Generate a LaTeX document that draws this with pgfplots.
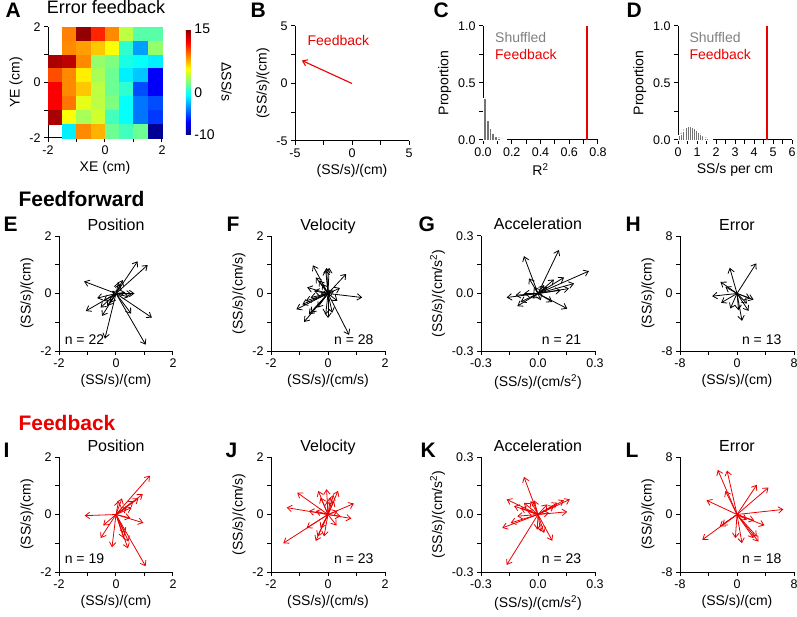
\documentclass[border=0pt]{standalone}
\usepackage{fontspec}
\setmainfont{Liberation Sans}
\usepackage{pgfplots}
\pgfplotsset{compat=1.18}
\usetikzlibrary{arrows.meta}
\definecolor{fbred}{RGB}{235,0,0}
\newcommand{\tickfont}{\fontsize{12.5}{14}\selectfont}
\newcommand{\labfont}{\fontsize{14}{16}\selectfont}
\newcommand{\titfont}{\fontsize{16}{18}\selectfont}
\newcommand{\letfont}{\fontsize{21}{24}\selectfont\bfseries}
\pgfplotsset{
  base/.style={scale only axis, axis lines=left, axis line style={-, line width=1pt},
    tick style={line width=1pt, black}, tick align=outside, major tick length=4pt,
    ticklabel style={font=\tickfont}, label style={font=\labfont},
    title style={font=\titfont, at={(0.5,1)}, anchor=base, yshift=0pt},
    /pgf/number format/assume math mode=true, clip=false},
  vec/.style={base, width=114pt, height=115pt},
  arr/.style={line width=0.8pt, -{Straight Barb[length=4.5pt,width=6.5pt]}, quiver={u=\thisrow{u},v=\thisrow{v}}},
  cm/.style={xmin=-2,xmax=2,ymin=-2,ymax=2, xtick={-2,-1,0,1,2}, xticklabels={-2,,0,,2}, ytick={-2,-1,0,1,2}, yticklabels={-2,,0,,2}},
  acc/.style={xmin=-0.3,xmax=0.3,ymin=-0.3,ymax=0.3, xtick={-0.3,-0.15,0,0.15,0.3}, xticklabels={-0.3,,0.0,,0.3}, ytick={-0.3,-0.15,0,0.15,0.3}, yticklabels={-0.3,,0.0,,0.3}},
  err/.style={xmin=-8,xmax=8,ymin=-8,ymax=8, xtick={-8,-4,0,4,8}, xticklabels={-8,,0,,8}, ytick={-8,-4,0,4,8}, yticklabels={-8,,0,,8}},
}
\begin{document}
\begin{tikzpicture}
\useasboundingbox (0,0) rectangle (797pt,-617pt);
% ---------- A ----------
\begin{axis}[base, width=114pt, height=111pt, at={(48pt,-138pt)}, anchor=south west,
  cm, xlabel={XE (cm)}, ylabel={YE (cm)},
  colormap/jet, point meta min=-10, point meta max=15,
  colorbar, colorbar style={scale only axis, width=5pt, height=106pt, at={(1.21,0.982)}, anchor=north west,
    ytick={-10,0,15}, yticklabels={-10,0,15}, axis line style={draw=none}, major tick length=0pt,
    yticklabel style={font=\labfont}, ylabel={ΔSS/s}, ylabel style={font=\labfont, rotate=180}}]
\addplot[scatter, only marks, mark=square*, mark size=7.15pt, scatter src=explicit,
  scatter/use mapped color={draw=mapped color, fill=mapped color},
  every mark/.append style={yscale=0.974}] table[meta=c] {
x y c
-1.75 0.75 14
-1.75 0.25 10
-1.75 -0.25 12
-1.75 -0.75 12
-1.75 -1.25 14
-1.25 1.75 8.75
-1.25 1.25 8.5
-1.25 0.75 13.5
-1.25 0.25 8.5
-1.25 -0.25 8.5
-1.25 -0.75 9
-1.25 -1.25 5.5
-1.25 -1.75 -1
-0.75 1.75 14.5
-0.75 1.25 8
-0.75 0.75 8.5
-0.75 0.25 6
-0.75 -0.25 7
-0.75 -0.75 5
-0.75 -1.25 3.5
-0.75 -1.75 8.5
-0.25 1.75 11
-0.25 1.25 7
-0.25 0.75 3
-0.25 0.25 3.5
-0.25 -0.25 4
-0.25 -0.75 4
-0.25 -1.25 4.5
-0.25 -1.75 7.5
0.25 1.75 8.5
0.25 1.25 5.5
0.25 0.75 2.5
0.25 0.25 2
0.25 -0.25 2
0.25 -0.75 2.5
0.25 -1.25 1
0.25 -1.75 2
0.75 1.75 4
0.75 1.25 0.5
0.75 0.75 0
0.75 0.25 -1
0.75 -0.25 0.5
0.75 -0.75 -0.5
0.75 -1.25 -0.5
0.75 -1.75 1
1.25 1.75 1.5
1.25 1.25 -3
1.25 0.75 -0.5
1.25 0.25 -2
1.25 -0.25 -5
1.25 -0.75 -4
1.25 -1.25 -4
1.25 -1.75 2
1.75 1.75 1.5
1.75 1.25 3
1.75 0.75 -1
1.75 0.25 -7
1.75 -0.25 -7
1.75 -0.75 -5
1.75 -1.25 -5.5
1.75 -1.75 -9.5
};
\draw[line width=1.2pt] (axis cs:0,0) ellipse[x radius=1.28, y radius=1.3];
\end{axis}
% ---------- B ----------
\begin{axis}[vec, at={(295pt,-141pt)}, anchor=south west,
  xmin=-5,xmax=5,ymin=-5,ymax=5, xtick={-5,-2.5,0,2.5,5}, xticklabels={-5,,0,,5},
  ytick={-5,-2.5,0,2.5,5}, yticklabels={-5,,0,,5},
  xlabel={(SS/s)/(cm)}, ylabel={(SS/s)/(cm)}]
\addplot[arr, fbred, line width=1.1pt] table {
x y u v
0 0 -4.4 2.0
};
\node[anchor=west, fbred, font=\labfont] at (axis cs:-4.2,3.78) {Feedback};
\end{axis}
% ---------- C ----------
\begin{axis}[base, width=115pt, height=114pt, at={(483pt,-140pt)}, anchor=south west,
  xmin=0,xmax=0.8,ymin=0,ymax=1, xtick={0,0.1,...,0.8}, xticklabels={0.0,,0.2,,0.4,,0.6,,0.8},
  ytick={0,0.25,0.5,0.75,1}, yticklabels={0.0,,0.5,,1.0},
  xlabel={R\textsuperscript{2}}, ylabel={Proportion}]
\addplot[ybar, bar width=0.02, fill=gray!90!black, draw=white, line width=0.3pt] table {
x y
0.01 0.37
0.03 0.175
0.05 0.10
0.07 0.06
0.09 0.035
0.11 0.02
0.13 0.01
0.15 0.005
};
\addplot[arr, fbred, line width=1.8pt, arrows=-] table {
x y u v
0.726 0 0 1
};
\node[anchor=west, gray, font=\labfont] at (axis cs:0.06,0.897) {Shuffled};
\node[anchor=west, fbred, font=\labfont] at (axis cs:0.06,0.75) {Feedback};
\end{axis}
% ---------- D ----------
\begin{axis}[base, width=114pt, height=114pt, at={(678pt,-140pt)}, anchor=south west,
  xmin=0,xmax=6,ymin=0,ymax=1, xtick={0,0.5,...,6}, xticklabels={0,,1,,2,,3,,4,,5,,6},
  ytick={0,0.25,0.5,0.75,1}, yticklabels={0.0,,0.5,,1.0},
  xlabel={SS/s per cm}, ylabel={Proportion}]
\addplot[ybar, bar width=0.1, fill=gray!90!black, draw=white, line width=0.3pt] table {
x y
0.05 0.04
0.15 0.055
0.25 0.075
0.35 0.095
0.45 0.11
0.55 0.12
0.65 0.122
0.75 0.115
0.85 0.10
0.95 0.085
1.05 0.07
1.15 0.055
1.25 0.04
1.35 0.03
1.45 0.02
1.55 0.012
1.65 0.008
1.75 0.004
};
\addplot[arr, fbred, line width=1.8pt, arrows=-] table {
x y u v
4.7 0 0 1
};
\node[anchor=west, gray, font=\labfont] at (axis cs:0.42,0.897) {Shuffled};
\node[anchor=west, fbred, font=\labfont] at (axis cs:0.42,0.75) {Feedback};
\end{axis}
% ---------- E ----------
\begin{axis}[vec, at={(59pt,-351pt)}, anchor=south west, cm,
  title={Position}, xlabel={(SS/s)/(cm)}, ylabel={(SS/s)/(cm)}]
\addplot[arr, black] table {
x y u v
0 0 0.76 1.12
0 0 1.11 0.99
0 0 -1.12 0.42
0 0 -1.06 -0.61
0 0 -0.39 -1.57
0 0 1.04 -1.78
0 0 1.26 -0.84
0 0 0.53 -0.70
0 0 -0.49 -0.78
0 0 -0.66 -0.16
0 0 0.24 0.47
0 0 0.65 0.0
0 0 0.44 -0.12
0 0 -0.14 0.09
0 0 -0.54 -0.49
0 0 0.09 0.39
0 0 0.32 0.04
0 0 -0.31 -0.43
0 0 -0.43 -0.26
0 0 0.55 -0.02
0 0 0.15 0.33
0 0 -0.20 -0.32
};
\node[anchor=west, font=\labfont] at (rel axis cs:0.02,0.1) {n = 22};
\end{axis}
% ---------- F ----------
\begin{axis}[vec, at={(271pt,-351pt)}, anchor=south west, cm,
  title={Velocity}, xlabel={(SS/s)/(cm/s)}, ylabel={(SS/s)/(cm/s)}]
\addplot[arr, black] table {
x y u v
0 0 -0.53 0.98
0 0 -0.05 0.89
0 0 0.04 0.89
0 0 -0.08 0.82
0 0 0.64 0.68
0 0 -0.43 0.56
0 0 1.20 -0.14
0 0 0.74 -1.44
0 0 0.0 -0.85
0 0 -0.84 -0.99
0 0 -1.11 -0.55
0 0 -0.73 0.21
0 0 0.42 0.19
0 0 0.33 -0.26
0 0 -0.67 -0.73
0 0 -0.90 -0.38
0 0 -0.61 -0.14
0 0 -0.32 0.45
0 0 0.21 0.09
0 0 -0.20 0.33
0 0 0.15 -0.67
0 0 -0.78 -0.26
0 0 -0.49 0.09
0 0 0.09 0.09
0 0 -0.37 -0.49
0 0 -0.08 -0.73
0 0 -0.61 -0.67
0 0 -0.26 -0.02
};
\node[anchor=east, font=\labfont] at (rel axis cs:0.93,0.1) {n = 28};
\end{axis}
% ---------- G ----------
\begin{axis}[vec, at={(481pt,-351pt)}, anchor=south west, acc,
  title={Acceleration}, xlabel={(SS/s)/(cm/s\textsuperscript{2})}, ylabel={(SS/s)/(cm/s\textsuperscript{2})}]
\addplot[arr, black] table {
x y u v
0 0 -0.074 0.195
0 0 0.11 0.227
0 0 0.268 0.117
0 0 0.154 -0.079
0 0 -0.165 -0.021
0 0 -0.109 -0.066
0 0 -0.047 0.079
0 0 0.137 0.084
0 0 0.19 0.052
0 0 0.084 0.073
0 0 0.119 0.017
0 0 0.075 -0.044
0 0 -0.091 -0.044
0 0 0.014 -0.035
0 0 0.049 0.035
0 0 -0.03 -0.026
0 0 -0.118 -0.009
0 0 0.163 0.026
0 0 0.032 0.044
0 0 -0.074 0.0
0 0 -0.021 0.035
};
\node[anchor=east, font=\labfont] at (rel axis cs:0.91,0.1) {n = 21};
\end{axis}
% ---------- H ----------
\begin{axis}[vec, at={(680pt,-351pt)}, anchor=south west, err,
  title={Error}, xlabel={(SS/s)/(cm)}, ylabel={(SS/s)/(cm)}]
\addplot[arr, black] table {
x y u v
0 0 2.70 4.19
0 0 -1.02 3.58
0 0 -2.33 1.63
0 0 -3.49 -0.37
0 0 -2.23 -1.30
0 0 -0.93 -2.09
0 0 0.70 -3.81
0 0 1.63 -2.42
0 0 2.33 -0.84
0 0 0.23 -2.33
0 0 -1.63 0.93
0 0 1.40 -1.40
0 0 1.86 -0.70
};
\node[anchor=east, font=\labfont] at (rel axis cs:0.92,0.1) {n = 13};
\end{axis}
% ---------- I ----------
\begin{axis}[vec, at={(59pt,-572pt)}, anchor=south west, cm,
  title={Position}, xlabel={(SS/s)/(cm)}, ylabel={(SS/s)/(cm)}]
\addplot[arr, fbred] table {
x y u v
0 0 1.19 1.35
0 0 0.94 0.71
0 0 0.79 0.56
0 0 -1.10 -0.04
0 0 -0.54 -0.82
0 0 -0.14 -1.14
0 0 1.04 -1.80
0 0 0.42 -1.18
0 0 0.96 -0.29
0 0 -0.45 -0.38
0 0 0.44 -0.94
0 0 0.21 0.56
0 0 0.61 0.47
0 0 0.27 -0.82
0 0 0.50 -0.12
0 0 0.09 0.47
0 0 0.38 0.24
0 0 0.55 0.24
0 0 0.32 -0.65
};
\node[anchor=west, font=\labfont] at (rel axis cs:0.02,0.12) {n = 19};
\end{axis}
% ---------- J ----------
\begin{axis}[vec, at={(271pt,-572pt)}, anchor=south west, cm,
  title={Velocity}, xlabel={(SS/s)/(cm/s)}, ylabel={(SS/s)/(cm/s)}]
\addplot[arr, fbred] table {
x y u v
0 0 -1.57 -1.0
0 0 -1.45 0.24
0 0 -1.08 0.76
0 0 -0.34 0.82
0 0 -0.05 0.88
0 0 0.35 0.82
0 0 0.91 0.38
0 0 0.82 -0.14
0 0 0.30 -0.38
0 0 -0.14 -0.76
0 0 -0.43 -0.92
0 0 -0.75 -0.47
0 0 -0.67 0.12
0 0 0.19 0.68
0 0 -0.26 0.59
0 0 0.21 0.47
0 0 0.33 0.12
0 0 -0.37 -0.76
0 0 0.09 0.59
0 0 -0.43 0.12
0 0 0.44 -0.06
0 0 -0.02 0.47
0 0 -0.26 -0.47
};
\node[anchor=east, font=\labfont] at (rel axis cs:0.93,0.12) {n = 23};
\end{axis}
% ---------- K ----------
\begin{axis}[vec, at={(481pt,-572pt)}, anchor=south west, acc,
  title={Acceleration}, xlabel={(SS/s)/(cm/s\textsuperscript{2})}, ylabel={(SS/s)/(cm/s\textsuperscript{2})}]
\addplot[arr, fbred] table {
x y u v
0 0 -0.165 -0.263
0 0 -0.074 0.196
0 0 -0.165 0.079
0 0 -0.188 -0.070
0 0 0.075 -0.137
0 0 0.168 0.079
0 0 0.154 0.014
0 0 0.137 0.074
0 0 0.014 -0.088
0 0 -0.021 0.074
0 0 -0.074 0.061
0 0 -0.126 0.044
0 0 0.049 0.053
0 0 0.084 0.044
0 0 -0.004 -0.079
0 0 -0.109 -0.009
0 0 -0.144 -0.044
0 0 0.102 0.061
0 0 0.032 -0.096
0 0 -0.056 0.018
0 0 -0.091 0.035
0 0 0.058 0.009
0 0 -0.039 0.070
};
\node[anchor=east, font=\labfont] at (rel axis cs:0.91,0.12) {n = 23};
\end{axis}
% ---------- L ----------
\begin{axis}[vec, at={(680pt,-572pt)}, anchor=south west, err,
  title={Error}, xlabel={(SS/s)/(cm)}, ylabel={(SS/s)/(cm)}]
\addplot[arr, fbred] table {
x y u v
0 0 -2.70 6.21
0 0 -1.40 6.12
0 0 -1.63 3.29
0 0 2.79 4.14
0 0 4.42 3.76
0 0 6.51 0.71
0 0 -4.28 1.98
0 0 -4.88 -3.53
0 0 -2.42 -1.65
0 0 -0.23 -3.29
0 0 0.70 -4.0
0 0 3.02 -3.76
0 0 2.33 -3.29
0 0 3.86 -1.51
0 0 2.42 -0.85
0 0 1.40 -0.71
0 0 -2.09 -1.51
0 0 2.79 -3.06
};
\node[anchor=east, font=\labfont] at (rel axis cs:0.92,0.12) {n = 18};
\end{axis}
% ---------- texts ----------
\node[anchor=base, font=\fontsize{18}{20}\selectfont] at (106pt,-14pt) {Error feedback};
\node[anchor=base west, font=\letfont] at (2pt,-18pt) {A};
\node[anchor=base west, font=\letfont] at (247pt,-18pt) {B};
\node[anchor=base west, font=\letfont] at (430pt,-18pt) {C};
\node[anchor=base west, font=\letfont] at (623pt,-18pt) {D};
\node[anchor=base west, font=\letfont] at (15pt,-207pt) {Feedforward};
\node[anchor=base west, font=\letfont, fbred] at (15pt,-430pt) {Feedback};
\node[anchor=base west, font=\letfont] at (0pt,-232pt) {E};
\node[anchor=base west, font=\letfont] at (223pt,-232pt) {F};
\node[anchor=base west, font=\letfont] at (415pt,-232pt) {G};
\node[anchor=base west, font=\letfont] at (622pt,-232pt) {H};
\node[anchor=base west, font=\letfont] at (0pt,-457pt) {I};
\node[anchor=base west, font=\letfont] at (222pt,-457pt) {J};
\node[anchor=base west, font=\letfont] at (417pt,-457pt) {K};
\node[anchor=base west, font=\letfont] at (622pt,-457pt) {L};
\end{tikzpicture}
\end{document}
